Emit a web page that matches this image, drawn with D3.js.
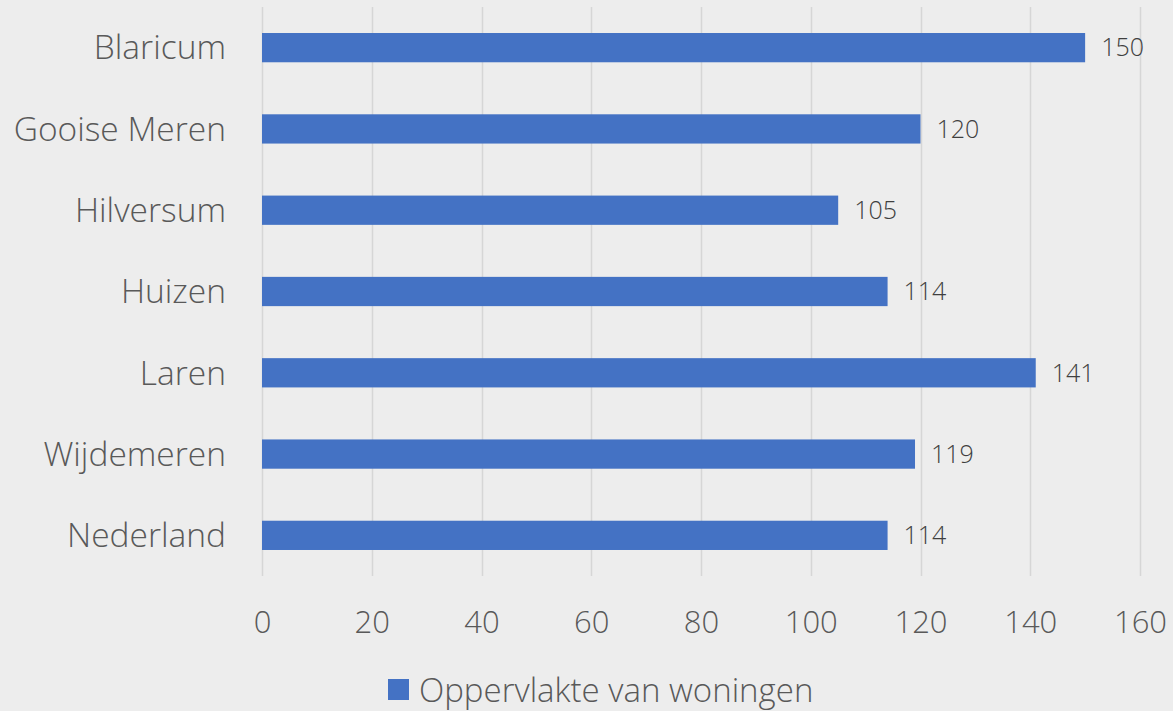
<!DOCTYPE html>
<html>
<head>
<meta charset="utf-8">
<script src="https://cdn.jsdelivr.net/npm/d3@7"></script>
<style>
  html, body { margin: 0; padding: 0; background: #ededed; }
  svg text { font-family: "Open Sans", "Noto Sans", sans-serif; font-weight: 300; fill: #595959; }
</style>
</head>
<body>
<div id="chart"></div>
<script>
// data
const categories = ["Blaricum", "Gooise Meren", "Hilversum", "Huizen", "Laren", "Wijdemeren", "Nederland"];
const values = [150, 120, 105, 114, 141, 119, 114];
const xTicks = [0, 20, 40, 60, 80, 100, 120, 140, 160];
const seriesName = "Oppervlakte van woningen";

const width = 1173;
const height = 711;
const barColor = "#4472c4";

const data = categories.map((c, i) => ({ name: c, value: values[i] }));

const svg = d3.select("#chart")
    .append("svg")
    .attr("width", width)
    .attr("height", height);

// background
svg.append("rect")
    .attr("width", width)
    .attr("height", height)
    .attr("fill", "#ededed");

// scales
const xScale = d3.scaleLinear()
    .domain([0, 160])
    .range([262, 1140]);

const yScale = d3.scaleBand()
    .domain(categories)
    .range([7, 576])
    .paddingInner(0.64)
    .paddingOuter(0.32);

// gridlines
svg.append("g")
    .selectAll("line")
    .data(xTicks)
    .enter()
    .append("line")
    .attr("x1", d => Math.round(xScale(d)) + 0.5)
    .attr("x2", d => Math.round(xScale(d)) + 0.5)
    .attr("y1", 7)
    .attr("y2", 576)
    .attr("stroke", "#d6d6d6")
    .attr("stroke-width", 1.5);

// x axis labels
const xAxis = d3.axisBottom(xScale)
    .tickValues(xTicks)
    .tickSize(0)
    .tickPadding(0)
    .tickFormat(d => d);

const xg = svg.append("g")
    .attr("transform", "translate(0,622)")
    .call(xAxis);
xg.select(".domain").remove();
xg.selectAll("text")
    .attr("dy", "0.35em")
    .attr("y", 0)
    .style("font-size", "31px")
    .style("font-family", null)
    .attr("fill", null);

// y axis labels
const yAxis = d3.axisLeft(yScale).tickSize(0).tickPadding(0);
const yg = svg.append("g")
    .attr("transform", "translate(226,0)")
    .call(yAxis);
yg.select(".domain").remove();
yg.selectAll("text")
    .attr("dy", "0.35em")
    .style("font-size", "33.5px")
    .style("font-family", null)
    .attr("fill", null);

// bars
svg.selectAll(".bar")
    .data(data)
    .enter()
    .append("rect")
    .attr("class", "bar")
    .attr("x", xScale(0))
    .attr("y", d => yScale(d.name))
    .attr("width", d => xScale(d.value) - xScale(0))
    .attr("height", yScale.bandwidth())
    .attr("fill", barColor);

// value labels
svg.selectAll(".value")
    .data(data)
    .enter()
    .append("text")
    .attr("class", "value")
    .attr("x", d => xScale(d.value) + 16)
    .attr("y", d => yScale(d.name) + yScale.bandwidth() / 2)
    .attr("dy", "0.35em")
    .style("font-size", "25px")
    .style("fill", "#3f3f3f")
    .text(d => d.value);

// legend
const legend = svg.append("g").attr("transform", "translate(388,679)");
legend.append("rect")
    .attr("width", 21)
    .attr("height", 21)
    .attr("fill", barColor);
legend.append("text")
    .attr("x", 31)
    .attr("y", 11)
    .attr("dy", "0.35em")
    .style("font-size", "33px")
    .text(seriesName);
</script>
</body>
</html>
